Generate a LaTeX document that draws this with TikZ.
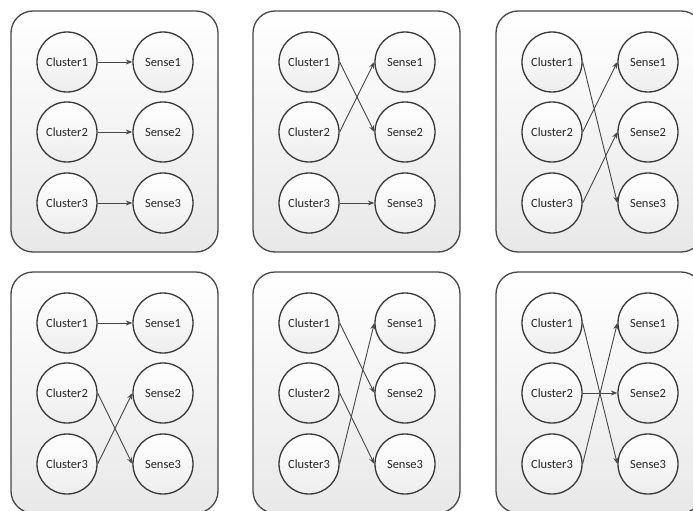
\documentclass[tikz,border=0pt]{standalone}
\usepackage{fontspec}
\setmainfont{Carlito}
\usetikzlibrary{arrows.meta}
\begin{document}
\begin{tikzpicture}[x=1pt,y=-1pt,
  panel/.style={draw=black!72, line width=1.3pt, rounded corners=22pt,
    top color=white, bottom color=black!9},
  unit/.style={circle, draw=black!78, line width=1.3pt, minimum size=60pt,
    inner sep=0pt, top color=white, bottom color=black!7,
    font=\fontsize{12.5}{14}\selectfont, text=black!85},
  link/.style={draw=black!72, line width=0.9pt,
    -{Stealth[length=6.5pt,width=5pt]}}
]
\useasboundingbox (0,0) rectangle (693,511);
\clip (0,0) rectangle (693,511);

% six panels, each with three clusters and three senses
\foreach \p/\l/\t in {1/11/11, 2/253/11, 3/496/11, 4/11/272, 5/253/272, 6/496/272} {
  \path[panel] (\l,\t) rectangle ++(207,241);
  \foreach \k/\dy in {1/51, 2/121, 3/192} {
    \node[unit] (p\p c\k) at (\l+56,\t+\dy) {Cluster\k};
    \node[unit] (p\p s\k) at (\l+152,\t+\dy) {Sense\k};
  }
}

% cluster-to-sense mappings
\foreach \p/\a/\b in {1/1/1, 1/2/2, 1/3/3,
                      2/1/2, 2/2/1, 2/3/3,
                      3/1/3, 3/2/1, 3/3/2,
                      4/1/1, 4/2/3, 4/3/2,
                      5/1/2, 5/2/3, 5/3/1,
                      6/1/3, 6/2/2, 6/3/1}
  \draw[link] (p\p c\a.east) -- (p\p s\b.west);
\end{tikzpicture}
\end{document}
